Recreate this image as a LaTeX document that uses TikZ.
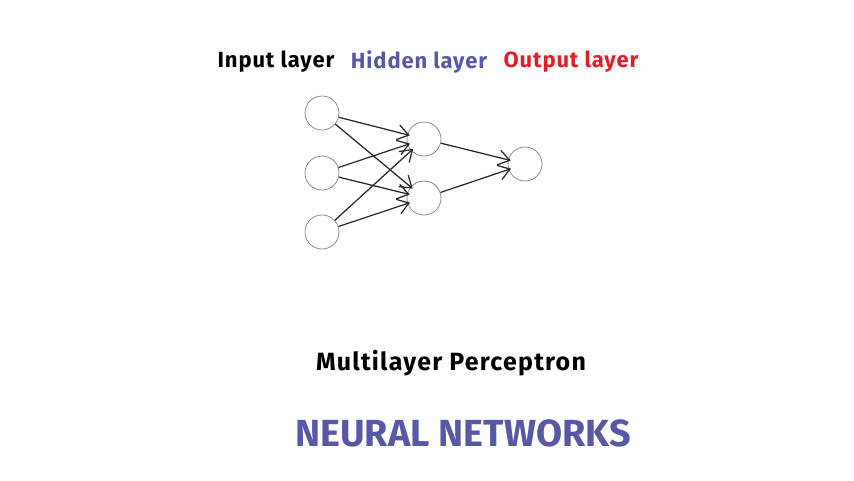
\documentclass[tikz,border=0pt]{standalone}
\usepackage{fontspec}
\setmainfont{Fira Sans}
\usepackage{tikz}
\usetikzlibrary{arrows.meta}
\usepackage{xcolor}
\definecolor{hiddenblue}{RGB}{88,88,168}
\definecolor{outred}{RGB}{228,28,40}
\newcommand{\layerfont}{\fontsize{12.5}{15}\selectfont\bfseries\addfontfeatures{LetterSpace=4}}

\begin{document}
\begin{tikzpicture}[>={Straight Barb[length=2.2mm,width=3mm]},
  neuron/.style={circle, draw=gray, thin, minimum size=0.68cm, inner sep=0pt},
  synapse/.style={->, line width=0.7pt, black!85, shorten >=-1.5pt}]
\useasboundingbox (0,0) rectangle (17.08,9.6);

\node[neuron] (x1) at (6.44,7.34) {};
\node[neuron] (x2) at (6.44,6.14) {};
\node[neuron] (x3) at (6.44,4.96) {};

\node[neuron] (h1) at (8.48,6.82) {};
\node[neuron] (h2) at (8.48,5.64) {};

\node[neuron] (y1) at (10.5,6.32) {};

\draw[synapse] (x1) -- (h1);
\draw[synapse] (x1) -- (h2);
\draw[synapse] (x2) -- (h1);
\draw[synapse] (x2) -- (h2);
\draw[synapse] (x3) -- (h1);
\draw[synapse] (x3) -- (h2);

\draw[synapse] (h1) -- (y1);
\draw[synapse] (h2) -- (y1);

\node (inlbl) at (5.52,8.36) {\layerfont\color{black}Input layer};
\node (hidlbl) at (8.38,8.36) {\layerfont\color{hiddenblue}Hidden layer};
\node (outlbl) at (11.42,8.36) {\layerfont\color{outred}Output layer};

\node (mlp) at (9.02,2.34) {\fontsize{14.2}{17}\selectfont\bfseries\addfontfeatures{LetterSpace=5}Multilayer Perceptron};
\node (title) at (9.26,0.94) {\fontsize{21.5}{25}\selectfont\bfseries\color{hiddenblue}NEURAL NETWORKS};

\end{tikzpicture}
\end{document}
